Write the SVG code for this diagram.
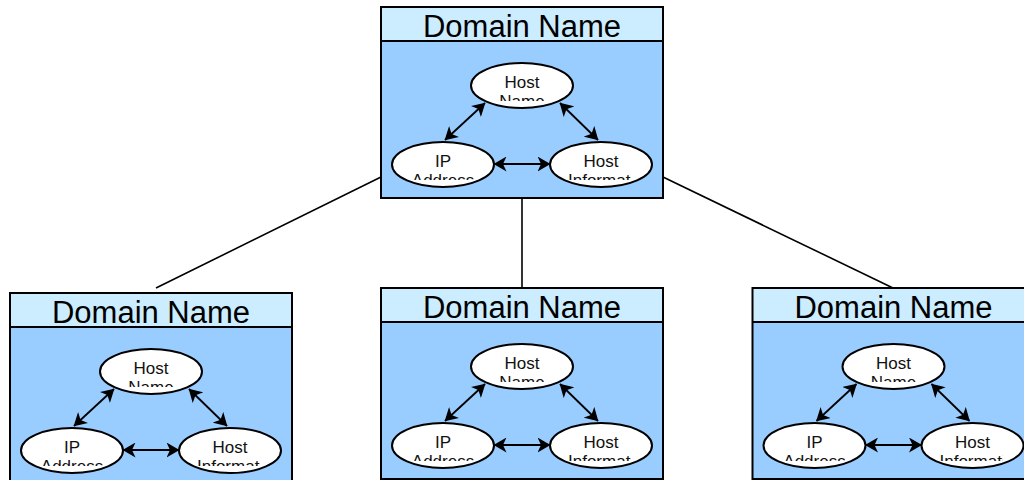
<svg xmlns="http://www.w3.org/2000/svg" width="1024" height="480" viewBox="0 0 1024 480">
  <style>
    .hdr { fill: #CCECFF; }
    .body { fill: #99CCFF; }
    .frame { fill: none; stroke: #000; stroke-width: 2; }
    .sep { stroke: #000; stroke-width: 2; }
    .title { font-family: "Liberation Sans", Arial, sans-serif; font-size: 31px; fill: #000; text-anchor: middle; }
    .ell { fill: #fff; stroke: #000; stroke-width: 2; }
    .lbl { font-family: "Liberation Sans", Arial, sans-serif; font-size: 17px; fill: #111; text-anchor: middle; }
    .lbl-start { text-anchor: start; }
    .arrow { stroke: #000; stroke-width: 1.8; fill: none; marker-start: url(#head); marker-end: url(#head); }
    .link { stroke: #000; stroke-width: 1.6; fill: none; }
  </style>
  <defs>
    <marker id="head" viewBox="0 0 13 15" refX="12.5" refY="7.5" markerWidth="13" markerHeight="15" markerUnits="userSpaceOnUse" orient="auto-start-reverse">
      <path d="M0,0 L13,7.5 L0,15 L3.5,7.5 z" fill="#000"/>
    </marker>
    <clipPath id="clip-hn" clipPathUnits="userSpaceOnUse"><rect x="107" y="58.5" width="68" height="35.5"/></clipPath>
    <clipPath id="clip-ip" clipPathUnits="userSpaceOnUse"><rect x="28" y="137.5" width="68" height="35.5"/></clipPath>
    <clipPath id="clip-hi" clipPathUnits="userSpaceOnUse"><rect x="187" y="137.5" width="63" height="35.5"/></clipPath>
  </defs>

  <g id="links">
    <line class="link" x1="381" y1="177" x2="156" y2="288"/>
    <line class="link" x1="522" y1="198" x2="522" y2="288"/>
    <line class="link" x1="663" y1="177" x2="893" y2="288"/>
  </g>

  <!-- Top domain -->
  <g id="domain-top" transform="translate(381,7)">
    <rect class="hdr" x="0" y="0" width="282" height="34"/>
    <rect class="body" x="0" y="34" width="282" height="157"/>
    <line class="sep" x1="0" y1="34" x2="282" y2="34"/>
    <rect class="frame" x="0" y="0" width="282" height="191"/>
    <text class="title" x="141" y="29.5">Domain Name</text>
    <g class="connectors">
      <line class="arrow" x1="64" y1="133" x2="104" y2="96"/>
      <line class="arrow" x1="179" y1="96" x2="217" y2="133"/>
      <line class="arrow" x1="113" y1="157" x2="169" y2="157"/>
    </g>
    <g id="top-hostname">
      <ellipse class="ell" cx="141" cy="78.5" rx="51" ry="22.5"/>
      <text class="lbl" clip-path="url(#clip-hn)"><tspan x="141" y="80.5">Host</tspan><tspan x="141" y="100">Name</tspan></text>
    </g>
    <g id="top-ip">
      <ellipse class="ell" cx="62" cy="157.5" rx="51" ry="22.5"/>
      <text class="lbl" clip-path="url(#clip-ip)"><tspan x="62" y="159.5">IP</tspan><tspan x="62" y="179">Address</tspan></text>
    </g>
    <g id="top-hostinfo">
      <ellipse class="ell" cx="220" cy="157.5" rx="51" ry="22.5"/>
      <g clip-path="url(#clip-hi)">
        <text class="lbl" x="220" y="159.5">Host</text>
        <text class="lbl lbl-start" x="187" y="179">Information</text>
      </g>
    </g>
  </g>

  <!-- Bottom-left domain -->
  <g id="domain-left" transform="translate(10,293)">
    <rect class="hdr" x="0" y="0" width="282" height="34"/>
    <rect class="body" x="0" y="34" width="282" height="157"/>
    <line class="sep" x1="0" y1="34" x2="282" y2="34"/>
    <rect class="frame" x="0" y="0" width="282" height="191"/>
    <text class="title" x="141" y="29.5">Domain Name</text>
    <g class="connectors">
      <line class="arrow" x1="64" y1="133" x2="104" y2="96"/>
      <line class="arrow" x1="179" y1="96" x2="217" y2="133"/>
      <line class="arrow" x1="113" y1="157" x2="169" y2="157"/>
    </g>
    <g id="left-hostname">
      <ellipse class="ell" cx="141" cy="78.5" rx="51" ry="22.5"/>
      <text class="lbl" clip-path="url(#clip-hn)"><tspan x="141" y="80.5">Host</tspan><tspan x="141" y="100">Name</tspan></text>
    </g>
    <g id="left-ip">
      <ellipse class="ell" cx="62" cy="157.5" rx="51" ry="22.5"/>
      <text class="lbl" clip-path="url(#clip-ip)"><tspan x="62" y="159.5">IP</tspan><tspan x="62" y="179">Address</tspan></text>
    </g>
    <g id="left-hostinfo">
      <ellipse class="ell" cx="220" cy="157.5" rx="51" ry="22.5"/>
      <g clip-path="url(#clip-hi)">
        <text class="lbl" x="220" y="159.5">Host</text>
        <text class="lbl lbl-start" x="187" y="179">Information</text>
      </g>
    </g>
  </g>

  <!-- Bottom-middle domain -->
  <g id="domain-middle" transform="translate(381,288)">
    <rect class="hdr" x="0" y="0" width="282" height="34"/>
    <rect class="body" x="0" y="34" width="282" height="157"/>
    <line class="sep" x1="0" y1="34" x2="282" y2="34"/>
    <rect class="frame" x="0" y="0" width="282" height="191"/>
    <text class="title" x="141" y="29.5">Domain Name</text>
    <g class="connectors">
      <line class="arrow" x1="64" y1="133" x2="104" y2="96"/>
      <line class="arrow" x1="179" y1="96" x2="217" y2="133"/>
      <line class="arrow" x1="113" y1="157" x2="169" y2="157"/>
    </g>
    <g id="middle-hostname">
      <ellipse class="ell" cx="141" cy="78.5" rx="51" ry="22.5"/>
      <text class="lbl" clip-path="url(#clip-hn)"><tspan x="141" y="80.5">Host</tspan><tspan x="141" y="100">Name</tspan></text>
    </g>
    <g id="middle-ip">
      <ellipse class="ell" cx="62" cy="157.5" rx="51" ry="22.5"/>
      <text class="lbl" clip-path="url(#clip-ip)"><tspan x="62" y="159.5">IP</tspan><tspan x="62" y="179">Address</tspan></text>
    </g>
    <g id="middle-hostinfo">
      <ellipse class="ell" cx="220" cy="157.5" rx="51" ry="22.5"/>
      <g clip-path="url(#clip-hi)">
        <text class="lbl" x="220" y="159.5">Host</text>
        <text class="lbl lbl-start" x="187" y="179">Information</text>
      </g>
    </g>
  </g>

  <!-- Bottom-right domain -->
  <g id="domain-right" transform="translate(752.5,288)">
    <rect class="hdr" x="0" y="0" width="282" height="34"/>
    <rect class="body" x="0" y="34" width="282" height="157"/>
    <line class="sep" x1="0" y1="34" x2="282" y2="34"/>
    <rect class="frame" x="0" y="0" width="282" height="191"/>
    <text class="title" x="141" y="29.5">Domain Name</text>
    <g class="connectors">
      <line class="arrow" x1="64" y1="133" x2="104" y2="96"/>
      <line class="arrow" x1="179" y1="96" x2="217" y2="133"/>
      <line class="arrow" x1="113" y1="157" x2="169" y2="157"/>
    </g>
    <g id="right-hostname">
      <ellipse class="ell" cx="141" cy="78.5" rx="51" ry="22.5"/>
      <text class="lbl" clip-path="url(#clip-hn)"><tspan x="141" y="80.5">Host</tspan><tspan x="141" y="100">Name</tspan></text>
    </g>
    <g id="right-ip">
      <ellipse class="ell" cx="62" cy="157.5" rx="51" ry="22.5"/>
      <text class="lbl" clip-path="url(#clip-ip)"><tspan x="62" y="159.5">IP</tspan><tspan x="62" y="179">Address</tspan></text>
    </g>
    <g id="right-hostinfo">
      <ellipse class="ell" cx="220" cy="157.5" rx="51" ry="22.5"/>
      <g clip-path="url(#clip-hi)">
        <text class="lbl" x="220" y="159.5">Host</text>
        <text class="lbl lbl-start" x="187" y="179">Information</text>
      </g>
    </g>
  </g>
</svg>
